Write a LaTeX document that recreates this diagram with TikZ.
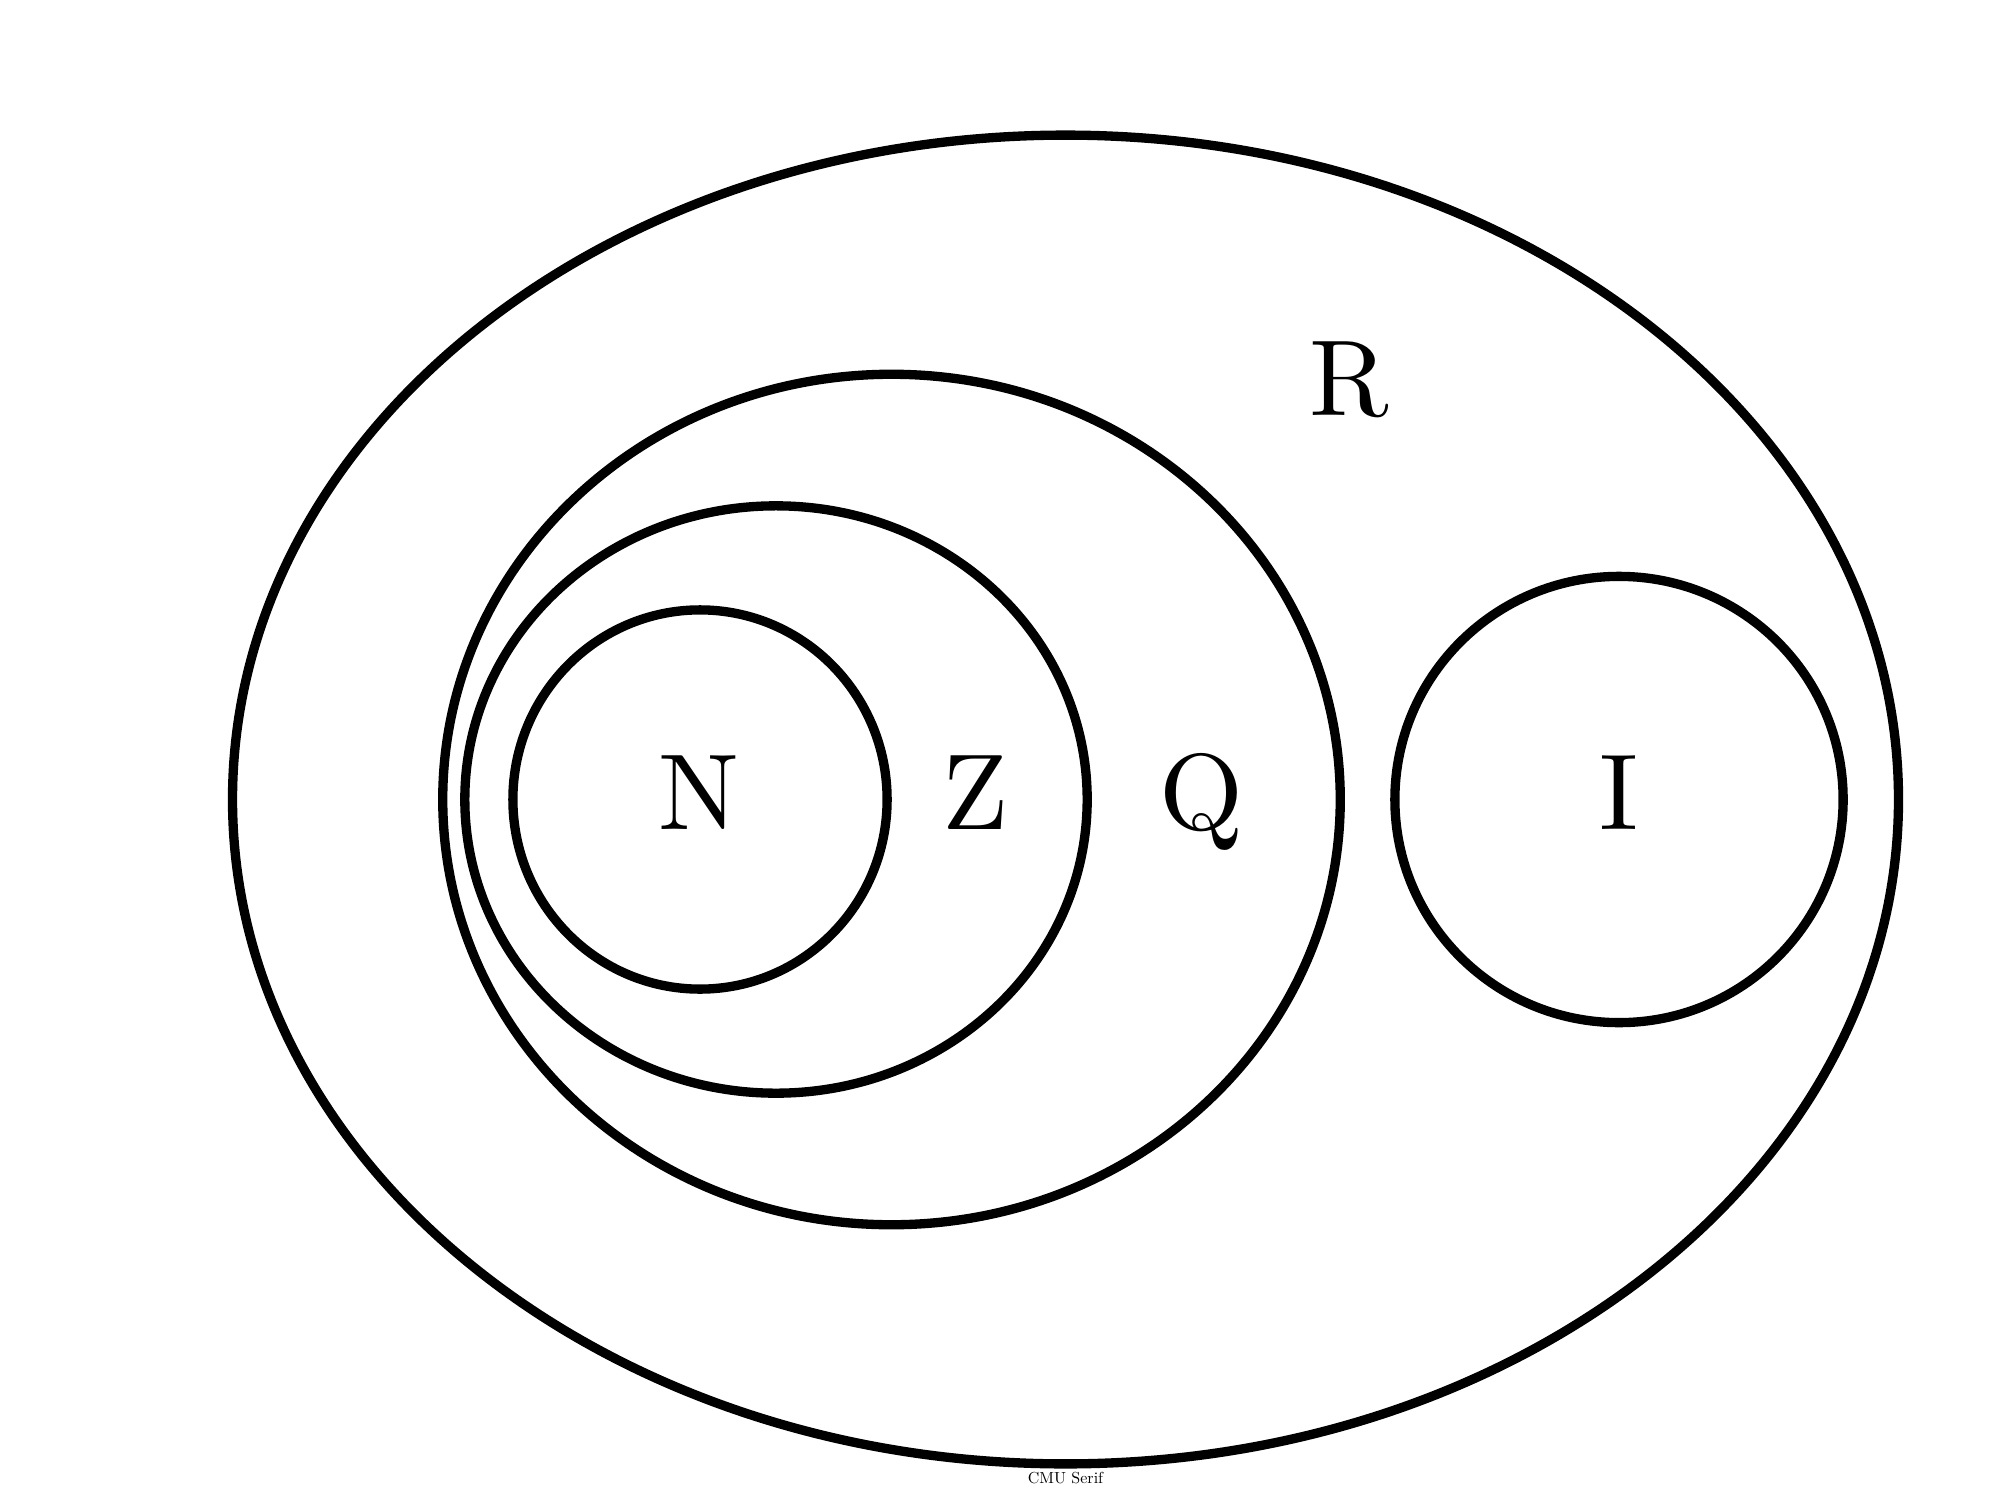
\documentclass[tikz,border=0pt]{standalone}
\font\setrm="[lmroman10-regular]:+tlig;" at 30.7pt
\font\footrm="[lmroman10-regular]:+tlig;" at 4.55pt
\begin{document}
\begin{tikzpicture}[x=0.01cm,y=-0.01cm,
  setline/.style={line width=2.65pt,black},
  setlabel/.style={inner sep=0pt,anchor=base,font=\setrm},
  footlabel/.style={inner sep=0pt,anchor=base,font=\footrm}]
\useasboundingbox (0,0) rectangle (2000,1500);
\coordinate (cR) at (1065.5,799.5);
\coordinate (cQ) at (891.5,799.5);
\coordinate (cZ) at (776,799.5);
\coordinate (cN) at (700,799.5);
\coordinate (cI) at (1619,799.5);
\draw[setline] (cR) ellipse [x radius=8.325cm, y radius=6.64cm];
\draw[setline] (cQ) ellipse [x radius=4.485cm, y radius=4.25cm];
\draw[setline] (cZ) ellipse [x radius=3.11cm, y radius=2.935cm];
\draw[setline] (cN) ellipse [x radius=1.87cm, y radius=1.895cm];
\draw[setline] (cI) ellipse [x radius=2.24cm, y radius=2.23cm];
\node[setlabel] (lR) at (1349,415) {R};
\node[setlabel] (lN) at (699,829) {N};
\node[setlabel] (lZ) at (975.5,829) {Z};
\node[setlabel] (lQ) at (1201,829) {Q};
\node[setlabel] (lI) at (1619,829) {I};
\node[footlabel] (foot) at (1065.5,1483) {CMU Serif};
\end{tikzpicture}
\end{document}
